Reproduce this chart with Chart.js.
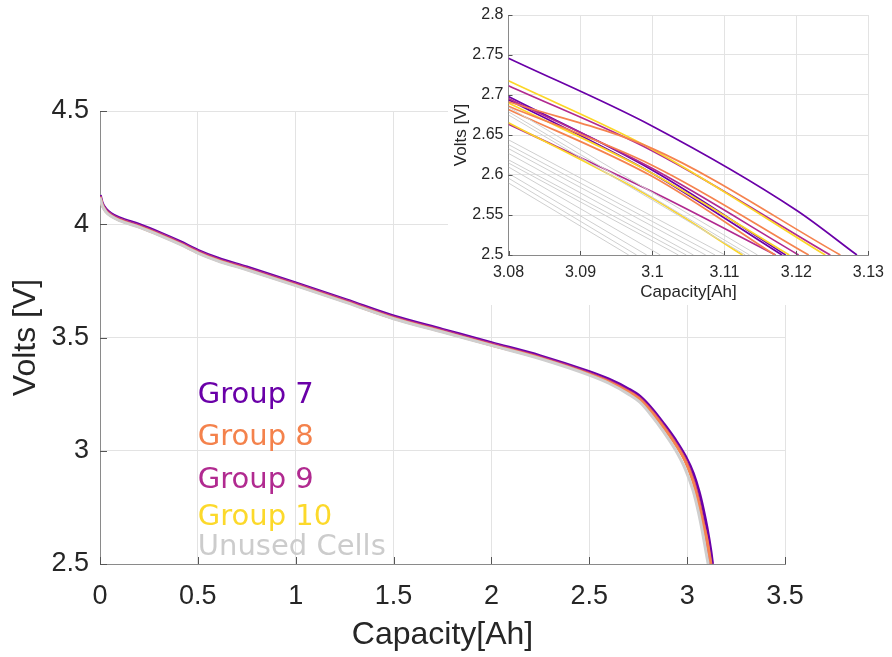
<!DOCTYPE html>
<html>
<head>
<meta charset="utf-8">
<script src="https://cdn.jsdelivr.net/npm/chart.js@4.4.1/dist/chart.umd.min.js"></script>
<style>
	body { margin: 0; background: #fff; }
	#wrap { position: relative; width: 892px; height: 657px; }
	#main { position: absolute; left: 0; top: 0; }
	#inset { position: absolute; left: 448px; top: 0; background: #fff; }
</style>
</head>
<body>
<div id="wrap">
	<canvas id="main" width="892" height="657"></canvas>
	<canvas id="inset" width="444" height="305"></canvas>
</div>
<script>
// ---- data ----

// main plot: shared capacity grid (Ah) for the body of each discharge curve
const CAPACITY = [0, 0.01, 0.03, 0.055, 0.1, 0.2, 0.31, 0.41, 0.5, 0.6, 0.75, 1.0, 1.26, 1.5, 1.75, 2.0, 2.25, 2.5, 2.6, 2.7, 2.76, 2.82, 2.88, 2.94, 2.99, 3.03, 3.06, 3.08];

// one representative cell per group (volts on CAPACITY, then its own tail)
const UNUSED_V = [4.118, 4.085, 4.055, 4.036, 4.016, 3.987, 3.949, 3.911, 3.873, 3.839, 3.799, 3.729, 3.654, 3.583, 3.524, 3.465, 3.406, 3.334, 3.298, 3.25, 3.213, 3.153, 3.083, 3.004, 2.92, 2.825, 2.72, 2.633];
const UNUSED_TAIL = [[3.095, 2.56], [3.1074, 2.5]];
const GROUP8_V = [4.12, 4.087, 4.057, 4.038, 4.018, 3.989, 3.951, 3.913, 3.875, 3.841, 3.801, 3.731, 3.656, 3.585, 3.526, 3.467, 3.409, 3.338, 3.304, 3.26, 3.226, 3.17, 3.103, 3.029, 2.955, 2.866, 2.768, 2.686];
const GROUP8_TAIL = [[3.10, 2.612], [3.1217, 2.5]];
const GROUP9_V = [4.124, 4.091, 4.062, 4.043, 4.023, 3.994, 3.956, 3.918, 3.88, 3.846, 3.806, 3.736, 3.661, 3.59, 3.531, 3.472, 3.413, 3.342, 3.308, 3.264, 3.23, 3.174, 3.107, 3.034, 2.961, 2.874, 2.778, 2.6956];
const GROUP9_TAIL = [[3.10, 2.608], [3.1203, 2.5]];
const GROUP10_V = [4.122, 4.089, 4.06, 4.041, 4.021, 3.992, 3.954, 3.916, 3.878, 3.844, 3.804, 3.734, 3.659, 3.588, 3.528, 3.469, 3.41, 3.34, 3.305, 3.261, 3.228, 3.172, 3.105, 3.031, 2.958, 2.87, 2.773, 2.69];
const GROUP10_TAIL = [[3.10, 2.602], [3.119, 2.5]];
const GROUP7_V = [4.128, 4.095, 4.066, 4.047, 4.027, 3.998, 3.96, 3.922, 3.884, 3.85, 3.81, 3.74, 3.665, 3.594, 3.535, 3.476, 3.418, 3.348, 3.315, 3.272, 3.238, 3.184, 3.118, 3.046, 2.975, 2.9, 2.818, 2.746];
const GROUP7_TAIL = [[3.10, 2.661], [3.12, 2.556], [3.1284, 2.5]];

// inset: end of discharge for every cell, [capacity, volts]
const INSET_UNUSED = [
	[[3.08, 2.685], [3.1146, 2.5]],
	[[3.08, 2.679], [3.1135, 2.5]],
	[[3.08, 2.675], [3.1129, 2.5]],
	[[3.08, 2.644], [3.1101, 2.5]],
	[[3.08, 2.638], [3.1087, 2.5]],
	[[3.08, 2.633], [3.1074, 2.5]],
	[[3.08, 2.627], [3.1057, 2.5]],
	[[3.08, 2.619], [3.1047, 2.5]],
	[[3.08, 2.615], [3.1036, 2.5]],
	[[3.08, 2.61], [3.1011, 2.5]],
	[[3.08, 2.602], [3.0992, 2.5]],
	[[3.08, 2.596], [3.0978, 2.5]],
	[[3.08, 2.59], [3.0967, 2.5]],
];
const INSET_GROUP8 = [
	[[3.08, 2.6915], [3.10, 2.633], [3.1261, 2.5]],
	[[3.08, 2.686], [3.10, 2.612], [3.1217, 2.5]],
	[[3.08, 2.682], [3.10, 2.598], [3.117, 2.5]],
];
const INSET_GROUP9 = [
	[[3.08, 2.7115], [3.10, 2.63], [3.1247, 2.5]],
	[[3.08, 2.6956], [3.10, 2.608], [3.1203, 2.5]],
	[[3.08, 2.6636], [3.10, 2.579], [3.1171, 2.5]],
];
const INSET_GROUP10 = [
	[[3.08, 2.7177], [3.10, 2.632], [3.124, 2.5]],
	[[3.08, 2.69], [3.10, 2.602], [3.119, 2.5]],
	[[3.08, 2.6653], [3.10, 2.571], [3.1125, 2.5]],
];
const INSET_GROUP7 = [
	[[3.08, 2.746], [3.10, 2.661], [3.12, 2.556], [3.1284, 2.5]],
	[[3.08, 2.698], [3.10, 2.606], [3.1185, 2.5]],
	[[3.08, 2.694], [3.10, 2.602], [3.118, 2.5]],
];

// tick labels
const MAIN_X_TICKS = [0, 0.5, 1, 1.5, 2, 2.5, 3, 3.5];
const MAIN_Y_TICKS = [2.5, 3, 3.5, 4, 4.5];
const INSET_X_TICKS = [3.08, 3.09, 3.1, 3.11, 3.12, 3.13];
const INSET_Y_TICKS = [2.5, 2.55, 2.6, 2.65, 2.7, 2.75, 2.8];

// text labels in the main plot
const LABEL_TEXT = ["Group 7", "Group 8", "Group 9", "Group 10", "Unused Cells"];
const LABEL_VOLTS = [3.211, 3.025, 2.834, 2.672, 2.539];
const LABEL_CAPACITY = 0.5;

// ---- styles ----
const PURPLE = "#6a00a8";
const ORANGE = "#f5834f";
const MAGENTA = "#b12a90";
const YELLOW = "#fcd627";
const GREY = "#cfcfcf";
const LABEL_COLORS = [PURPLE, "#f4824c", MAGENTA, "#fcd92b", "#cccccc"];
const GRID = "#e3e3e3";
const AXIS = "#8a8a8a";
const TEXT = "#262626";
const FONT = "'Liberation Sans', Arial, sans-serif";

// join a curve body and its tail into chart points
const toPoints = (volts, tail) =>
	CAPACITY.map((x, i) => ({ x, y: volts[i] })).concat(tail.map(([x, y]) => ({ x, y })));

const pairPoints = (pairs) => pairs.map(([x, y]) => ({ x, y }));

const lineSet = (data, color, width) => ({
	data,
	borderColor: color,
	borderWidth: width,
	pointRadius: 0,
	fill: false,
	cubicInterpolationMode: "monotone",
});

// MATLAB style ticks drawn inward from the axes
const inwardTicks = (len) => ({
	id: "inwardTicks",
	afterDatasetsDraw: (chart) => {
		const { ctx, chartArea: a, scales: { x, y } } = chart;
		ctx.save();
		ctx.strokeStyle = "#555";
		ctx.lineWidth = 1;
		ctx.beginPath();
		x.ticks.forEach((t) => {
			const px = Math.round(x.getPixelForValue(t.value)) + 0.5;
			ctx.moveTo(px, a.bottom);
			ctx.lineTo(px, a.bottom - len);
		});
		y.ticks.forEach((t) => {
			const py = Math.round(y.getPixelForValue(t.value)) + 0.5;
			ctx.moveTo(a.left, py);
			ctx.lineTo(a.left + len, py);
		});
		ctx.stroke();
		ctx.restore();
	},
});

// group names written inside the main axes
const groupLabels = () => ({
	id: "groupLabels",
	afterDatasetsDraw: (chart) => {
		const { ctx, scales: { x, y } } = chart;
		ctx.save();
		ctx.font = "29px 'DejaVu Sans', Verdana, sans-serif";
		ctx.textAlign = "left";
		ctx.textBaseline = "alphabetic";
		LABEL_TEXT.forEach((text, i) => {
			ctx.fillStyle = LABEL_COLORS[i];
			ctx.fillText(text, x.getPixelForValue(LABEL_CAPACITY), y.getPixelForValue(LABEL_VOLTS[i]));
		});
		ctx.restore();
	},
});

const axis = (min, max, ticks, digits, opts) => ({
	type: "linear",
	min,
	max,
	afterBuildTicks: (s) => {
		s.ticks = ticks.map((value) => ({ value }));
	},
	afterFit: opts.fit,
	grid: { color: GRID, drawTicks: false },
	border: { color: AXIS, width: 1 },
	ticks: {
		padding: opts.tickPad,
		color: TEXT,
		maxRotation: 0,
		autoSkip: false,
		font: { family: FONT, size: opts.tickSize },
		callback: (v) => String(+v.toFixed(digits)),
	},
	title: {
		display: true,
		text: opts.title,
		color: TEXT,
		font: { family: FONT, size: opts.titleSize },
		padding: opts.titlePad,
	},
});

const baseOptions = (padding) => ({
	responsive: false,
	animation: false,
	layout: { padding },
	plugins: { legend: { display: false }, tooltip: { enabled: false } },
});

// ---- main chart ----
new Chart(document.getElementById("main"), {
	type: "line",
	data: {
		datasets: [
			lineSet(toPoints(UNUSED_V, UNUSED_TAIL), GREY, 3),
			lineSet(toPoints(GROUP8_V, GROUP8_TAIL), ORANGE, 3),
			lineSet(toPoints(GROUP9_V, GROUP9_TAIL), MAGENTA, 3),
			lineSet(toPoints(GROUP10_V, GROUP10_TAIL), YELLOW, 3),
			lineSet(toPoints(GROUP7_V, GROUP7_TAIL), PURPLE, 3.5),
		],
	},
	options: {
		...baseOptions({ left: 0, right: 107, top: 111, bottom: 0 }),
		scales: {
			x: axis(0, 3.5, MAIN_X_TICKS, 1, {
				fit: (s) => { s.height = 93; },
				tickPad: 16, tickSize: 27, title: "Capacity[Ah]", titleSize: 32,
				titlePad: { top: 0, bottom: 3 },
			}),
			y: axis(2.5, 4.5, MAIN_Y_TICKS, 1, {
				fit: (s) => { s.width = 100; },
				tickPad: 11, tickSize: 27, title: "Volts [V]", titleSize: 32,
				titlePad: { top: 7, bottom: 0 },
			}),
		},
	},
	plugins: [inwardTicks(7), groupLabels()],
});

// ---- inset chart ----
const insetSets = [
	...INSET_UNUSED.map((c) => lineSet(pairPoints(c), GREY, 1)),
	...INSET_GROUP8.map((c) => lineSet(pairPoints(c), ORANGE, 1.7)),
	...INSET_GROUP10.map((c) => lineSet(pairPoints(c), YELLOW, 1.7)),
	...INSET_GROUP9.map((c) => lineSet(pairPoints(c), MAGENTA, 1.7)),
	...INSET_GROUP7.map((c) => lineSet(pairPoints(c), PURPLE, 1.7)),
];

new Chart(document.getElementById("inset"), {
	type: "line",
	data: { datasets: insetSets },
	options: {
		...baseOptions({ left: 0, right: 19.5, top: 15, bottom: 0 }),
		scales: {
			x: axis(3.08, 3.13, INSET_X_TICKS, 2, {
				fit: (s) => { s.height = 50; },
				tickPad: 8, tickSize: 16, title: "Capacity[Ah]", titleSize: 17,
				titlePad: { top: 0, bottom: 2 },
			}),
			y: axis(2.5, 2.8, INSET_Y_TICKS, 2, {
				fit: (s) => { s.width = 60.5; },
				tickPad: 5, tickSize: 16, title: "Volts [V]", titleSize: 17,
				titlePad: { top: 3.5, bottom: 0 },
			}),
		},
	},
	plugins: [inwardTicks(4)],
});
</script>
</body>
</html>
